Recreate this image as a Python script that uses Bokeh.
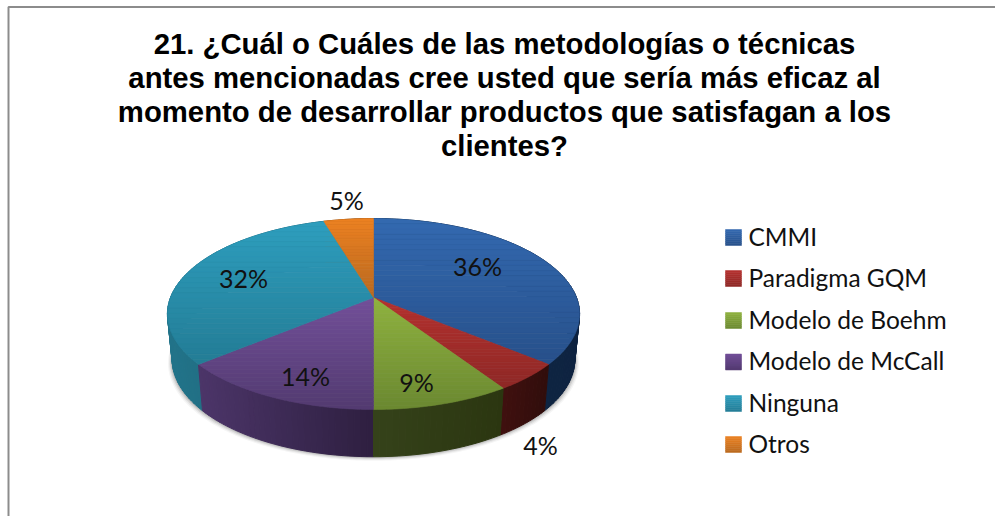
import math
from bokeh.plotting import figure
from bokeh.models import Range1d
from bokeh.core.properties import value
from bokeh.embed import file_html
from bokeh.resources import INLINE

title_lines = [
    "21. ¿Cuál o Cuáles de las metodologías o técnicas",
    "antes mencionadas cree usted que sería más eficaz al",
    "momento de desarrollar productos que satisfagan a los",
    "clientes?",
]
categories = ["CMMI", "Paradigma GQM", "Modelo de Boehm", "Modelo de McCall", "Ninguna", "Otros"]
shares = [36.1, 4.7, 9.2, 13.9, 31.5, 4.6]
pct_labels = ["36%", "4%", "9%", "14%", "32%", "5%"]
top_light = ["#3369B0", "#B5312E", "#8FB23F", "#724F99", "#2E9EBE", "#EC8122"]
top_dark = ["#27508A", "#8E2826", "#6A8830", "#523A70", "#237C95", "#B9691F"]
wall_left = ["#10294A", "#3F100F", "#35421A", "#4C3569", "#22748A", "#8A4A10"]
wall_right = ["#0E2340", "#300D0B", "#2B3610", "#2E1F40", "#1B5F72", "#8A4A10"]

# page-pixel layout
CX, CY, R, S, K = 373.0, 297.0, 203.0, 92.65, 0.1728
DEPTH = 45.0
label_pos = [(477, 265), (540, 444), (416, 381), (305, 375), (243, 277), (346, 199)]


def top_pt(theta):
    u, v = math.sin(theta), math.cos(theta)
    d = 1 + K * v
    return CX + R * u / d, CY - S * v / d


def low_pt(theta, extra=0.0):
    x, y = top_pt(theta)
    return CX + (0.977 + extra / 200) * (x - CX), CY + DEPTH + extra + 1.02 * (y - CY)


def hex2rgb(h):
    return tuple(int(h[i:i + 2], 16) for i in (1, 3, 5))


def mix(a, b, t):
    ca, cb = hex2rgb(a), hex2rgb(b)
    return "#%02x%02x%02x" % tuple(round(p + (q - p) * t) for p, q in zip(ca, cb))


def clip(poly, y0, keep_below):
    out = []
    for i in range(len(poly)):
        a, b = poly[i], poly[(i + 1) % len(poly)]
        ina = a[1] >= y0 if keep_below else a[1] <= y0
        inb = b[1] >= y0 if keep_below else b[1] <= y0
        if ina:
            out.append(a)
        if ina != inb:
            t = (y0 - a[1]) / (b[1] - a[1])
            out.append((a[0] + t * (b[0] - a[0]), y0))
    return out


def bands(poly, light, dark, n=28):
    xs, ys, cs = [], [], []
    lo, hi = min(q[1] for q in poly), max(q[1] for q in poly)
    for i in range(n):
        a = lo + (hi - lo) * i / n
        b = lo + (hi - lo) * (i + 1) / n
        piece = clip(clip(poly, a, True), b, False)
        if len(piece) >= 3:
            xs.append([q[0] for q in piece])
            ys.append([q[1] for q in piece])
            cs.append(mix(light, dark, (i + 0.5) / n))
    return xs, ys, cs


p = figure(width=995, height=516, output_backend="svg", toolbar_location=None,
           x_range=Range1d(0, 995), y_range=Range1d(516, 0),
           min_border=0, outline_line_color=None, background_fill_color="white")
p.axis.visible = False
p.grid.visible = False

# frame
p.line([8, 8, 995], [516, 6.5, 6.5], line_color="#8c8c8c", line_width=2)

# soft shadow under the pie
total = sum(shares)
ring = [2 * math.pi * i / 360 for i in range(360)]
for e, a in zip((4, 3, 2, 1), (0.04, 0.06, 0.09, 0.12)):
    p.patch([low_pt(t, e)[0] for t in ring], [low_pt(t, e)[1] for t in ring],
            fill_color="#000000", fill_alpha=a, line_color=None)

# side walls, back to front
edges = [0.0]
for s in shares:
    edges.append(edges[-1] + s / total * 2 * math.pi)

quads = []
for i in range(len(shares)):
    steps = max(2, int((edges[i + 1] - edges[i]) / math.radians(1.5)))
    xmin = min(top_pt(edges[i] + (edges[i + 1] - edges[i]) * j / steps)[0] for j in range(steps + 1))
    xmax = max(top_pt(edges[i] + (edges[i + 1] - edges[i]) * j / steps)[0] for j in range(steps + 1))
    for j in range(steps):
        t0 = edges[i] + (edges[i + 1] - edges[i]) * j / steps
        t1 = edges[i] + (edges[i + 1] - edges[i]) * (j + 1) / steps
        pts = [top_pt(t0), top_pt(t1), low_pt(t1), low_pt(t0)]
        xc = sum(q[0] for q in pts) / 4
        c = mix(wall_left[i], wall_right[i], (xc - xmin) / max(xmax - xmin, 1))
        quads.append((math.cos((t0 + t1) / 2), pts, c))
quads.sort(key=lambda q: -q[0])
qc = [q[2] for q in quads]
p.patches([[c[0] for c in q[1]] for q in quads], [[c[1] for c in q[1]] for q in quads],
          fill_color=qc, line_color=qc, line_width=1.0)

# top faces with a vertical gradient per slice
for i in range(len(shares)):
    steps = max(4, int((edges[i + 1] - edges[i]) / math.radians(1)))
    poly = [(CX, CY)] + [top_pt(edges[i] + (edges[i + 1] - edges[i]) * j / steps) for j in range(steps + 1)]
    xs, ys, cs = bands(poly, top_light[i], top_dark[i])
    p.patches(xs, ys, fill_color=cs, line_color=cs, line_width=0.6)

# percent labels
p.text([q[0] for q in label_pos], [q[1] for q in label_pos], text=pct_labels,
       text_font=value("Lato"), text_font_size="25px", text_color="#111111",
       text_align="center", text_baseline="alphabetic")

# title
p.text([504] * 4, [43, 77, 111, 145], text=title_lines,
       text_font=value("Liberation Sans"), text_font_style="bold", text_font_size="29.3px",
       text_color="#000000", text_align="center", text_baseline="alphabetic")

# legend
leg_y = [237, 278, 320, 361.5, 403, 444]
for i, yc in enumerate(leg_y):
    sq = [(725, yc - 8), (741, yc - 8), (741, yc + 8), (725, yc + 8)]
    xs, ys, cs = bands(sq, top_light[i], top_dark[i], n=8)
    p.patches(xs, ys, fill_color=cs, line_color=cs, line_width=0.5)
p.text([748] * 6, [y - 1.5 for y in leg_y], text=categories,
       text_font=value("Lato"), text_font_size="24.5px", text_color="#111111",
       text_align="left", text_baseline="alphabetic")

open("out.html", "w").write(file_html(p, INLINE))
